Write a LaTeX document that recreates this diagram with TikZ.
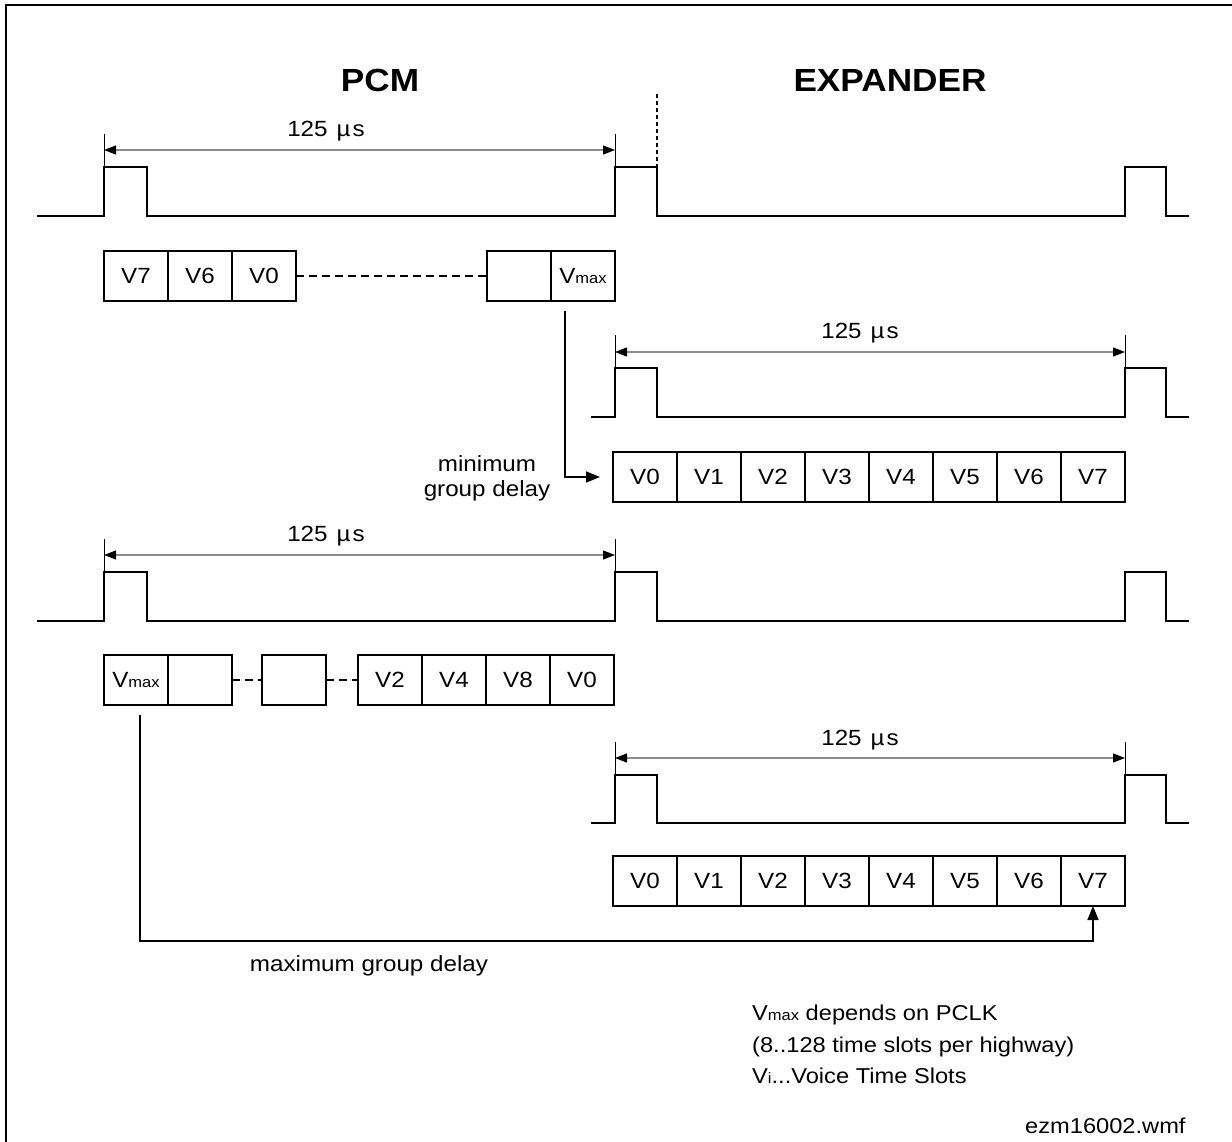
\documentclass[tikz,border=0pt]{standalone}
\usepackage{fontspec}
\setmainfont{Liberation Sans}[FakeStretch=1.1]
\usetikzlibrary{arrows.meta}
\newcommand\Vsub[1]{V{\fontsize{15}{17}\selectfont #1}}
\newcommand\musec{125\hspace{9pt}µ\hspace{2pt}s}
\begin{document}
\begin{tikzpicture}[x=1pt,y=-1pt,
  sig/.style={line width=2.6pt, line join=miter, line cap=rect},
  slot/.style={draw, line width=2.6pt, minimum width=64pt, minimum height=50pt, inner sep=0pt, outer sep=0pt, font=\fontsize{22}{26}\selectfont},
  dimline/.style={draw=black!45, line width=1.2pt, {Triangle[length=12pt,width=9pt,color=black,fill=black]}-{Triangle[length=12pt,width=9pt,color=black,fill=black]}},
  extl/.style={line width=0.9pt},
  dimtxt/.style={font=\fontsize{22}{26}\selectfont},
  dashline/.style={line width=2.6pt, dash pattern=on 8pt off 5pt},
  conn/.style={line width=1.6pt, -{Triangle[length=14pt,width=11pt]}},
  sep/.style={line width=1.5pt, dash pattern=on 4pt off 3pt},
  head/.style={font=\fontsize{32}{36}\selectfont\bfseries},
  lbl/.style={font=\fontsize{22}{25}\selectfont},
  note/.style={font=\fontsize{21.5}{26}\selectfont, anchor=base west, inner sep=0pt}
]
\useasboundingbox (0,0) rectangle (1232,1142);
% frame
\draw[line width=2pt] (1232,5) -- (6,5) -- (6,1142);

% headings
\node[head] (pcm) at (380,80) {PCM};
\node[head] (exp) at (890,80) {EXPANDER};
\draw[sep] (657,94) -- (657,201);

% ---- row 1 : PCM frame
\coordinate (r1a) at (104,167);
\coordinate (r1b) at (615,167);
\draw[sig] (38,216) -- (104,216) -- (r1a) -- (147,167) -- (147,216) -- (615,216) -- (r1b) -- (657,167) -- (657,216)
  -- (1125,216) -- (1125,167) -- (1166,167) -- (1166,216) -- (1188,216);
\draw[extl] (r1a) -- ++(0,-33);
\draw[extl] (r1b) -- ++(0,-33);
\draw[dimline] ([yshift=17pt]r1a) -- ([yshift=17pt]r1b);
\node[dimtxt] (t1) at (326,131) {\musec};

\node[slot] (a7) at (136,276) {V7};
\node[slot] (a6) at (200,276) {V6};
\node[slot] (a0) at (264,276) {V0};
\node[slot] (ae) at (519,276) {};
\node[slot] (amax) at (583,276) {\Vsub{max}};
\draw[dashline] (a0.east) -- (ae.west);

% ---- row 2 : expander frame
\coordinate (r2a) at (615,368);
\coordinate (r2b) at (1125,368);
\draw[sig] (592,417) -- (615,417) -- (r2a) -- (657,368) -- (657,417) -- (1125,417) -- (r2b) -- (1166,368) -- (1166,417) -- (1188,417);
\draw[extl] (r2a) -- ++(0,-33);
\draw[extl] (r2b) -- ++(0,-33);
\draw[dimline] ([yshift=16pt]r2a) -- ([yshift=16pt]r2b);
\node[dimtxt] (t2) at (860,333) {\musec};

\foreach \i in {0,...,7} {
  \node[slot] (b\i) at (645+64*\i,477) {V\i};
}
\draw[conn, shorten >=13pt] ([xshift=-18pt,yshift=-10pt]amax.south) |- (b0.west);
\node[lbl, align=center] (mintxt) at (487,478) {minimum\\group delay};

% ---- row 3 : PCM frame
\coordinate (r3a) at (104,572);
\coordinate (r3b) at (615,572);
\draw[sig] (38,621) -- (104,621) -- (r3a) -- (147,572) -- (147,621) -- (615,621) -- (r3b) -- (657,572) -- (657,621)
  -- (1125,621) -- (1125,572) -- (1166,572) -- (1166,621) -- (1188,621);
\draw[extl] (r3a) -- ++(0,-33);
\draw[extl] (r3b) -- ++(0,-33);
\draw[dimline] ([yshift=17pt]r3a) -- ([yshift=17pt]r3b);
\node[dimtxt] (t3) at (326,536) {\musec};

\node[slot] (c1) at (136,680) {\Vsub{max}};
\node[slot] (c2) at (200,680) {};
\node[slot] (c3) at (294,680) {};
\node[slot] (c4) at (390,680) {V2};
\node[slot] (c5) at (454,680) {V4};
\node[slot] (c6) at (518,680) {V8};
\node[slot] (c7) at (582,680) {V0};
\draw[dashline] (c2.east) -- (c3.west);
\draw[dashline] (c3.east) -- (c4.west);

% ---- row 4 : expander frame
\coordinate (r4a) at (615,775);
\coordinate (r4b) at (1125,775);
\draw[sig] (592,823) -- (615,823) -- (r4a) -- (657,775) -- (657,823) -- (1125,823) -- (r4b) -- (1166,775) -- (1166,823) -- (1188,823);
\draw[extl] (r4a) -- ++(0,-33);
\draw[extl] (r4b) -- ++(0,-33);
\draw[dimline] ([yshift=17pt]r4a) -- ([yshift=17pt]r4b);
\node[dimtxt] (t4) at (860,740) {\musec};

\foreach \i in {0,...,7} {
  \node[slot] (d\i) at (645+64*\i,881) {V\i};
}
\draw[conn] ([xshift=4pt,yshift=-10pt]c1.south) |- ([yshift=-35pt]d7.south) -- (d7.south);
\node[lbl] (maxtxt) at (369,966) {maximum group delay};

% ---- notes
\node[note] (n1) at (752,1020) {\Vsub{max} depends on PCLK};
\node[note] (n2) at (752,1052) {(8..128 time slots per highway)};
\node[note] (n3) at (752,1083) {\Vsub{i}...Voice Time Slots};
\node[note] (n4) at (1025,1133) {ezm16002.wmf};
\end{tikzpicture}
\end{document}
